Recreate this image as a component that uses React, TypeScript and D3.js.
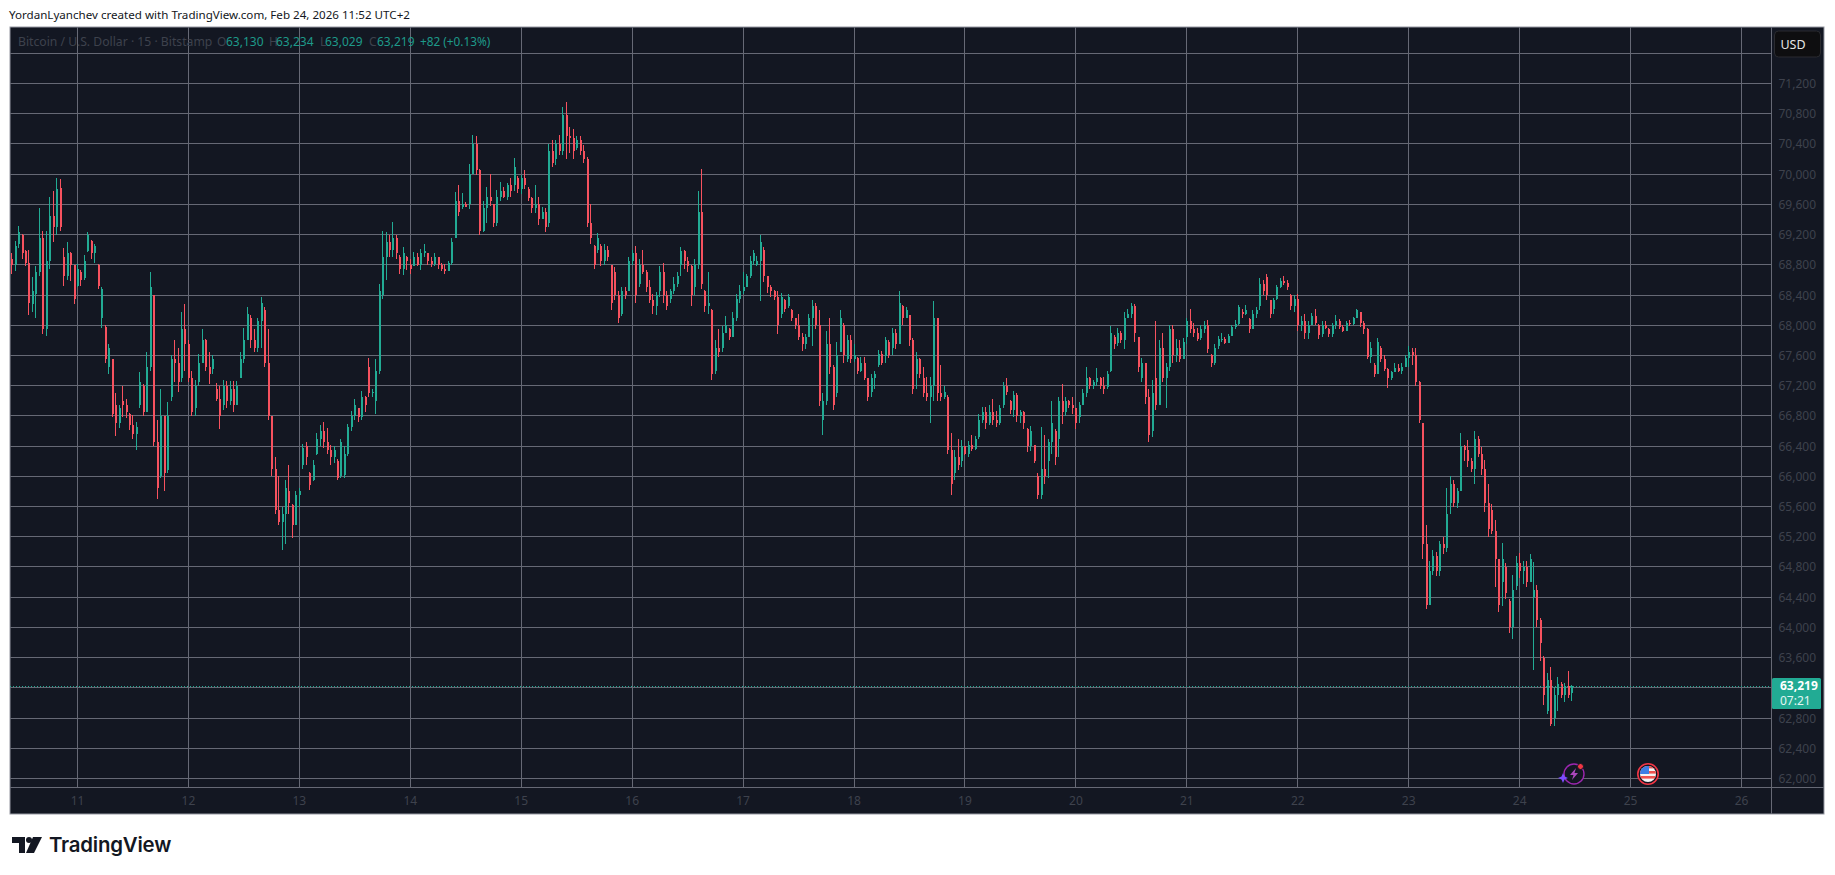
import React from 'react';
import * as d3 from 'd3';

type Bar = [number, number, number, number]; // open, high, low, close

// BTCUSD, one row every 45 minutes
const feb10: Bar[] = [
  [68880,68960,68680,68800],[68800,69110,68720,69050],[69080,69320,69020,69230],[69200,69210,68880,68960],
  [68980,69000,68780,68820],[68830,69000,68130,68300],[68280,68640,68180,68450],[68420,68780,68100,68700],
  [68700,69550,68650,69150],[69150,69250,67880,67950],[67950,69250,67860,68850],[68850,69700,68750,69450],
  [69450,69780,69100,69300],[69300,69950,69200,69800],[69820,69930,69250,69300],[68900,69020,68520,68650],
  [68650,69100,68600,68950],[68950,68970,68590,68800],[68800,68800,68280,68350],
];
const feb11: Bar[] = [
  [68520,68810,68500,68750],[68700,68730,68520,68600],[68620,68930,68600,68850],[68980,69240,68970,69200],
  [69120,69130,68880,68950],[68950,69080,68830,69050],[68800,68810,68480,68520],[68100,68500,67970,68480],
  [67980,68000,67500,67550],[67450,67750,67350,67700],[67550,67550,66780,66820],[66950,67100,66530,66700],
  [66700,66950,66640,66900],[67000,67190,66790,66950],[66950,67020,66770,66850],[66830,66840,66610,66680],
  [66680,66810,66500,66560],[66560,66720,66350,66650],[66950,67380,66900,67250],[67200,67220,66800,66850],
  [66850,67650,66850,67450],[67450,68700,67400,68500],[68400,68400,66400,66450],[66450,66750,65700,65850],
  [66000,67150,65980,66800],[66800,66800,65800,66050],[66080,66980,66050,66800],[67050,67600,67000,67550],
  [67550,67800,67250,67500],[67500,67700,67120,67250],[67300,68180,67250,67950],[67950,68280,67400,67750],
];
const feb12: Bar[] = [
  [67750,67800,67250,67300],[67300,67400,66800,66850],[66900,67270,66800,67200],[67250,67620,67200,67500],
  [67500,67950,67500,67800],[67800,67820,67400,67450],[67450,67650,67220,67350],[67420,67600,67350,67550],
  [67150,67240,67000,67020],[67020,67200,66620,66800],[66950,67280,66880,67200],[67200,67260,66900,67000],
  [67000,67260,66950,67150],[67150,67260,66850,66950],[66950,67260,66950,67200],[67300,67640,67300,67550],
  [67550,67970,67500,67800],[67800,68240,67800,68150],[68100,68130,67700,67800],[67800,67950,67650,67700],
  [67700,68100,67650,68050],[68050,68370,67700,68300],[68200,68240,67450,67500],[67500,67950,66750,66800],
  [66800,66800,66000,66100],[66100,66250,65500,65550],[65550,66000,65350,65400],[65400,65600,65020,65500],
  [65500,65950,65100,65850],[65800,66150,65500,65650],[65620,65640,65180,65350],[65350,65800,65350,65750],
];
const feb13: Bar[] = [
  [65750,65850,65600,65800],[66150,66430,66100,66380],[66400,66450,66150,66250],[66050,66060,65820,65880],
  [65950,66220,65940,66150],[66300,66570,66280,66500],[66500,66680,66400,66600],[66600,66720,66370,66450],
  [66450,66640,66290,66350],[66350,66420,66150,66250],[66250,66400,66180,66350],[66200,66230,65950,65980],
  [66000,66500,65980,66450],[66020,66400,65980,66300],[66300,66690,66270,66650],[66650,66870,66600,66800],
  [66800,67020,66750,66950],[66900,66910,66720,66780],[66780,67130,66750,67050],[67050,67060,66850,66950],
  [67450,67570,67050,67100],[67100,67150,67050,67120],[67000,67550,66830,67400],[67400,68550,67350,68450],
  [68400,69250,68350,68900],[68900,69240,68600,69100],[69100,69200,68900,69000],[69000,69370,68900,69150],
  [69150,69190,68880,68950],[68900,68930,68680,68750],[68750,69030,68670,68950],[68900,68910,68730,68850],
];
const feb14: Bar[] = [
  [68800,68880,68680,68750],[68780,68970,68780,68900],[68900,68950,68780,68800],[68800,69010,68730,68950],
  [68950,69080,68900,68980],[68950,68960,68800,68850],[68850,68900,68770,68810],[68810,68950,68780,68900],
  [68900,68900,68750,68800],[68800,68820,68720,68750],[68750,68810,68680,68720],[68720,68850,68720,68820],
  [68820,69150,68800,69100],[69150,69760,69150,69650],[69650,69850,69450,69500],[69560,69750,69540,69600],
  [69600,69630,69560,69570],[69600,70140,69540,70000],[70000,70520,70010,70400],[70400,70510,69990,70050],
  [70050,70070,69200,69250],[69250,69640,69230,69550],[69550,69830,69350,69700],[69700,70000,69580,69650],
  [69600,69610,69300,69350],[69350,69790,69320,69700],[69700,69900,69640,69780],[69780,69830,69680,69700],
  [69700,69880,69660,69850],[69850,69950,69700,69780],[69850,70210,69780,70100],[69950,69970,69750,69800],
];
const feb15: Bar[] = [
  [69800,69990,69740,69950],[69950,70050,69800,69850],[69800,69830,69640,69680],[69680,69700,69480,69550],
  [69550,69860,69480,69600],[69600,69700,69330,69400],[69400,69560,69400,69500],[69500,69550,69230,69300],
  [69350,70400,69300,70300],[70300,70450,70100,70150],[70200,70450,70120,70400],[70400,70520,70250,70300],
  [70300,70890,70250,70780],[70780,70950,70200,70500],[70500,70630,70280,70480],[70480,70600,70200,70300],
  [70340,70500,70320,70450],[70450,70500,70250,70300],[70300,70380,70150,70200],[70200,70230,69300,69350],
  [69350,69600,69080,69150],[69050,69060,68750,68800],[69000,69220,68950,69150],[69050,69070,68780,68850],
  [68850,69070,68800,69000],[69000,69050,68850,68900],[68800,68800,68200,68300],[68700,68770,68340,68400],
  [68400,68450,68030,68100],[68150,68500,68120,68450],[68450,68500,68350,68400],[68450,68900,68450,68850],
];
const feb16: Bar[] = [
  [68850,69000,68800,68950],[68950,69050,68300,68400],[68550,68880,68500,68800],[68800,68990,68680,68700],
  [68700,68730,68440,68500],[68500,68600,68300,68330],[68330,68420,68150,68250],[68250,68440,68130,68400],
  [68450,68780,68380,68700],[68700,68830,68300,68400],[68400,68450,68200,68250],[68350,68480,68300,68450],
  [68450,68640,68420,68550],[68550,68700,68500,68650],[68800,69040,68650,68980],[68980,69000,68750,68850],
  [68850,68900,68700,68780],[68780,68800,68250,68400],[68500,68880,68400,68800],[68800,69780,68750,69500],
  [69500,70070,68480,68550],[68450,68460,68170,68250],[68250,68700,68150,68300],[68200,68220,67270,67350],
  [67400,67800,67350,67700],[67700,67950,67580,67650],[67700,67990,67650,67900],[67900,68120,67900,68000],
  [67950,67960,67800,67850],[67850,68180,67850,68100],[68100,68420,68050,68350],[68350,68530,68300,68450],
];
const feb17: Bar[] = [
  [68450,68700,68410,68500],[68500,68680,68500,68650],[68650,68920,68620,68850],[68850,69000,68800,68950],
  [68800,68910,68780,68850],[68850,69190,68320,69100],[69000,69030,68570,68650],[68650,68650,68430,68500],
  [68500,68530,68380,68450],[68450,68470,68330,68380],[68380,68450,67880,68000],[68150,68430,68100,68380],
  [68340,68350,68180,68220],[68260,68410,68230,68380],[68200,68220,68050,68100],[68100,68100,67950,68000],
  [68000,68150,67800,67850],[67850,67900,67660,67750],[67750,67880,67680,67850],[67850,68150,67850,68100],
  [68100,68340,67720,68250],[68250,68300,67950,68000],[68000,68200,66930,67000],[66750,67100,66550,67000],
  [67000,67930,66950,67750],[67750,68100,67350,67450],[67450,67480,66880,66950],[67100,67780,67050,67600],
  [67650,68200,67650,68100],[68000,68030,67500,67600],[67550,67870,67520,67800],[67800,67870,67500,67550],
];
const feb18: Bar[] = [
  [67550,67750,67520,67600],[67570,67580,67360,67400],[67400,67580,67380,67500],[67500,67580,67270,67300],
  [67300,67290,67000,67050],[67120,67360,67050,67300],[67300,67400,67160,67350],[67480,67670,67450,67620],
  [67620,67660,67480,67500],[67590,67850,67500,67800],[67780,67800,67560,67600],[67700,67960,67600,67900],
  [67900,67950,67680,67750],[67750,68450,67750,68300],[68250,68270,68000,68100],[68100,68240,68100,68200],
  [68130,68140,67730,67800],[67800,67830,67090,67150],[67350,67650,67150,67550],[67550,67570,67300,67350],
  [67300,67450,67050,67100],[67100,67310,67000,67050],[67050,67320,66700,67200],[67200,68320,67000,68100],
  [68100,68100,67000,67100],[67100,67480,67000,67050],[67050,67200,67030,67120],[67050,67080,66300,66350],
  [66350,66580,65750,65900],[66050,66350,65950,66250],[66250,66500,66080,66150],[66200,66480,66120,66400],
];
const feb19: Bar[] = [
  [66400,66400,66280,66300],[66300,66470,66260,66420],[66420,66550,66340,66360],[66360,66530,66350,66500],
  [66520,66830,66500,66750],[66750,66920,66700,66850],[66850,66920,66630,66700],[66700,66950,66680,66850],
  [66850,67020,66680,66750],[66750,66870,66650,66700],[66700,66950,66680,66900],[66950,67250,66900,67200],
  [67200,67300,67080,67120],[67000,67010,66820,66880],[66880,67130,66780,67080],[67080,67100,66720,66800],
  [66800,66880,66700,66850],[66850,66860,66620,66700],[66620,66640,66320,66400],[66400,66660,66330,66600],
  [66420,66420,66180,66200],[66000,66050,65700,65750],[65750,66650,65700,66100],[66100,66550,65900,66000],
  [66200,66500,65980,66450],[66450,67000,66300,66700],[66600,66620,66150,66250],[66500,67050,66250,67000],
  [67000,67220,66690,66850],[66850,67050,66800,67000],[67000,67010,66900,66950],[66950,67050,66830,66900],
];
const feb20: Bar[] = [
  [66900,66900,66620,66700],[66780,66980,66700,66950],[66950,67160,66950,67100],[67100,67450,67050,67300],
  [67300,67320,67150,67200],[67200,67270,67150,67250],[67250,67440,67200,67300],[67300,67320,67150,67200],
  [67200,67310,67090,67150],[67180,67390,67150,67350],[67400,67990,67380,67900],[67850,67870,67690,67750],
  [67760,67960,67720,67900],[67900,67930,67760,67800],[67800,68180,67680,68100],[68100,68220,68100,68150],
  [68150,68300,68100,68250],[68250,68280,67780,67900],[67850,67840,67380,67450],[67300,67560,67250,67500],
  [67500,67500,66960,67050],[67050,67150,66450,66550],[66600,67280,66520,67100],[67300,68060,66880,66950],
  [66950,67800,66950,67700],[67700,67900,67250,67300],[67300,67500,66900,67450],[67450,68000,67400,67950],
  [67950,68000,67500,67600],[67600,67820,67520,67700],[67700,67810,67520,67550],[67550,67830,67550,67780],
];
const feb21: Bar[] = [
  [67850,68090,67750,68050],[68050,68220,67900,67950],[67950,68030,67850,67900],[67900,67960,67790,67820],
  [67830,68000,67800,67950],[67950,68050,67900,68000],[68000,68070,67630,67680],[67600,67620,67450,67500],
  [67500,67750,67480,67700],[67720,67860,67680,67820],[67820,67900,67780,67820],[67820,67850,67750,67770],
  [67770,67880,67770,67860],[67860,68000,67860,67980],[67980,68070,67950,68020],[68020,68270,68000,68240],
  [68180,68220,68100,68150],[68150,68270,68130,68200],[68080,68090,67900,67950],[67950,68200,67950,68150],
  [68150,68240,68100,68200],[68250,68620,68200,68550],[68550,68600,68400,68450],[68640,68680,68340,68400],
  [68330,68340,68100,68150],[68210,68360,68150,68330],[68350,68530,68330,68500],[68500,68620,68490,68580],
  [68580,68650,68530,68560],[68560,68600,68470,68500],[68400,68410,68200,68250],[68250,68400,68180,68350],
];
const feb22: Bar[] = [
  [68350,68420,67930,68000],[68000,68120,67930,68050],[68050,68150,67820,67900],[67900,68050,67820,68000],
  [68000,68160,68000,68120],[68120,68210,68000,68030],[68000,68020,67820,67870],[67880,68050,67850,68000],
  [68000,68050,67950,67970],[67950,67960,67850,67880],[67880,68030,67850,68000],[68000,68130,67950,68050],
  [68050,68080,67950,67980],[67980,68000,67910,67930],[67930,68050,67930,68030],[68030,68070,67990,68010],
  [68010,68110,68000,68090],[68090,68220,68090,68200],[68170,68180,67980,68030],[68030,68050,67880,67950],
  [67950,67960,67550,67580],[67580,67780,67500,67700],[67480,67500,67310,67350],[67350,67830,67350,67780],
  [67700,67720,67520,67550],[67550,67600,67390,67420],[67420,67440,67170,67300],[67300,67400,67280,67380],
  [67380,67500,67380,67430],[67430,67490,67380,67400],[67400,67500,67350,67450],[67450,67610,67450,67560],
];
const feb23: Bar[] = [
  [67560,67730,67450,67650],[67650,67700,67480,67600],[67600,67700,67200,67250],[67250,67260,66700,66750],
  [66700,66710,64900,65100],[65100,65350,64250,64300],[64300,64880,64300,64750],[64750,65020,64700,64950],
  [64950,65000,64680,64750],[64750,65150,64680,65100],[65100,65200,64970,65050],[65050,65850,65000,65500],
  [65650,66000,65500,65900],[65900,65950,65600,65650],[65650,65850,65580,65800],[65800,66580,65800,66400],
  [66400,66420,66200,66350],[66350,66480,66120,66200],[66200,66240,66060,66100],[66100,66600,65900,66500],
  [66500,66530,66250,66300],[66300,66390,66020,66100],[66100,66220,65530,65650],[65650,65900,65200,65300],
  [65550,65630,65230,65280],[65280,65420,64530,64900],[64900,64850,64200,64300],[64600,65120,64290,64900],
  [64800,64850,64370,64450],[64350,64370,63920,64000],[64000,64700,63850,64500],[64550,64950,64500,64850],
];
const feb24: Bar[] = [
  [64850,64980,64650,64750],[64750,64880,64580,64800],[64800,64880,64530,64600],[64600,64970,64600,64900],
  [64400,64870,63430,64500],[64500,64560,64000,64100],[64100,64120,63560,63800],[63600,63620,62970,63100],
  [62900,63400,62850,63300],[63300,63470,62700,62720],[62800,63210,62700,63100],[63100,63340,62900,63250],
  [63250,63280,63070,63100],[63100,63260,63010,63230],[63230,63420,63070,63100],[63130,63234,63029,63219],
];

const priceTicks = [62000,62400,62800,63200,63600,64000,64400,64800,65200,65600,66000,66400,66800,67200,67600,68000,68400,68800,69200,69600,70000,70400,70800,71200,71600];
const priceLabels = [62000,62400,62800,63600,64000,64400,64800,65200,65600,66000,66400,66800,67200,67600,68000,68400,68800,69200,69600,70000,70400,70800,71200];
const dayTicks = [11,12,13,14,15,16,17,18,19,20,21,22,23,24,25,26];
const lastPrice = 63219;
const countdown = '07:21';
const legendSymbol = 'Bitcoin / U.S. Dollar · 15 · Bitstamp';
const legendValues = [['O','63,130',217,226],['H','63,234',269,276],['L','63,029',320,325],['C','63,219',369,377]] as const;
const legendChange = '+82 (+0.13%)';
const caption = 'YordanLyanchev created with TradingView.com, Feb 24, 2026 11:52 UTC+2';

const UP = '#22ab94';
const DOWN = '#f7525f';
const BG = '#131722';
const GRID = '#666975';
const AXIS_TEXT = '#3e424d';
const FONT = '"Noto Sans", Roboto, sans-serif';

const W = 1835;
const H = 875;
const plot = { left: 10, top: 27, right: 1771, bottom: 787, outerRight: 1824, outerBottom: 814 };

export default function App() {
  const bars = [...feb10, ...feb11, ...feb12, ...feb13, ...feb14, ...feb15, ...feb16, ...feb17, ...feb18, ...feb19, ...feb20, ...feb21, ...feb22, ...feb23, ...feb24];

  const y = d3.scaleLinear().domain([62000, 71200]).range([778.5, 83.5]);
  const x = d3.scaleUtc()
    .domain([Date.UTC(2026, 1, 11), Date.UTC(2026, 1, 26)])
    .range([77.5, 1741.5]);
  const firstBar = Date.UTC(2026, 1, 10, 9, 45);
  const barTime = (i: number) => firstBar + i * 45 * 60 * 1000;
  const snap = (v: number) => Math.floor(v) + 0.5;

  const priceLabel = d3.format(',');

  return (
    <div style={{ position: 'absolute', left: 0, top: 0, width: W, height: H, background: '#fff' }}>
      <svg width={W} height={H} style={{ display: 'block' }}>
        <text x={9} y={18.5} fontFamily={FONT} fontSize={11.6} fill="#131722">{caption}</text>

        <rect x={plot.left} y={plot.top} width={plot.outerRight - plot.left} height={plot.outerBottom - plot.top} fill={BG} stroke="#9598a1" strokeWidth={1} />

        {/* grid */}
        {priceTicks.map(p => (
          <line key={p} x1={plot.left} x2={plot.right} y1={snap(y(p))} y2={snap(y(p))} stroke={GRID} />
        ))}
        {dayTicks.map(d => {
          const px = snap(x(Date.UTC(2026, 1, d)));
          return <line key={d} x1={px} x2={px} y1={plot.top} y2={plot.bottom} stroke={GRID} />;
        })}
        <line x1={plot.right + 0.5} x2={plot.right + 0.5} y1={plot.top} y2={plot.outerBottom} stroke={GRID} />
        <line x1={plot.left} x2={plot.outerRight} y1={plot.bottom + 0.5} y2={plot.bottom + 0.5} stroke={GRID} />

        {/* candles */}
        <g shapeRendering="crispEdges">
          {bars.map(([o, h, l, c], i) => {
            const cx = snap(x(barTime(i)));
            const top = y(Math.max(o, c));
            const bottom = y(Math.min(o, c));
            const color = c >= o ? UP : DOWN;
            return (
              <g key={i}>
                <line x1={cx} x2={cx} y1={y(h)} y2={y(l)} stroke={color} strokeWidth={1} />
                <rect x={cx - 0.5} y={top} width={2} height={Math.max(bottom - top, 1)} fill={color} />
              </g>
            );
          })}
        </g>

        <line x1={plot.left} x2={plot.right} y1={snap(y(lastPrice))} y2={snap(y(lastPrice))} stroke={UP} strokeDasharray="1 2" />

        {/* legend */}
        <text x={18} y={46} fontFamily={FONT} fontSize={12.2} fill={AXIS_TEXT}>{legendSymbol}</text>
        {legendValues.map(([k, v, kx, vx]) => (
          <g key={k} fontFamily={FONT} fontSize={12}>
            <text x={kx} y={46} fill={AXIS_TEXT}>{k}</text>
            <text x={vx} y={46} fill="#1e9a8a">{v}</text>
          </g>
        ))}
        <text x={420} y={46} fontFamily={FONT} fontSize={11.8} fill="#1e9a8a">{legendChange}</text>

        {/* axes */}
        {priceLabels.map(p => (
          <text key={p} x={1816} y={y(p) + 4.5} textAnchor="end" fontFamily={FONT} fontSize={12} fill={AXIS_TEXT}>{priceLabel(p)}</text>
        ))}
        {dayTicks.map(d => (
          <text key={d} x={x(Date.UTC(2026, 1, d))} y={805} textAnchor="middle" fontFamily={FONT} fontSize={12} fill={AXIS_TEXT}>{d}</text>
        ))}

        {/* USD button */}
        <rect x={1774.5} y={31} width={46} height={26} rx={4} fill="#0e0e10" stroke="#2a2b30" />
        <text x={1793} y={48.5} textAnchor="middle" fontFamily={FONT} fontSize={12.5} fill="#e6e6e6">USD</text>

        {/* last price tag */}
        <rect x={1772} y={678} width={49} height={31} rx={1.5} fill={UP} />
        <text x={1780} y={690} fontFamily={FONT} fontSize={12} fontWeight={700} fill="#fff">{priceLabel(lastPrice)}</text>
        <text x={1780} y={704.5} fontFamily={FONT} fontSize={12} fill="#e2f5f2">{countdown}</text>

        {/* event icons */}
        <g transform="translate(1574,774)">
          <circle r={10} fill="#131722" stroke="#9c27b0" strokeWidth={1.4} />
          <path d="M2,-6 L-4,1 L-0.5,1 L-2,6 L4,-1 L0.5,-1 Z" fill="#ab47bc" />
          <circle cx={6.5} cy={-7.5} r={3} fill="#f23645" stroke="#131722" />
          <path d="M-11,-1 L-9.5,2.5 L-6,4 L-9.5,5.5 L-11,9 L-12.5,5.5 L-16,4 L-12.5,2.5 Z" fill="#7c4dff" />
        </g>
        <g transform="translate(1648,774)">
          <circle r={10.2} fill="#131722" stroke="#f23645" strokeWidth={1.6} />
          <clipPath id="flag"><circle r={8} /></clipPath>
          <g clipPath="url(#flag)">
            <rect x={-8} y={-8} width={16} height={16} fill="#f4f4f4" />
            <rect x={-8} y={-3} width={16} height={2.6} fill="#ef5350" />
            <rect x={-8} y={2} width={16} height={2.6} fill="#ef5350" />
            <rect x={-8} y={-8} width={16} height={2.4} fill="#ef5350" />
            <rect x={-8} y={-8} width={9} height={8} fill="#3d7fe6" />
          </g>
        </g>

        {/* footer logo */}
        <g fill="#131722">
          <path d="M12,837 H25 V853 H19 V843 H12 Z" />
          <circle cx={29} cy={840} r={3} />
          <path d="M33,837 H42 L34,853 H26 Z" />
        </g>
        <text x={49} y={852} fontFamily="Inter, sans-serif" fontSize={20.4} fontWeight={600} fill="#131722" letterSpacing={-0.2}>TradingView</text>
      </svg>
    </div>
  );
}
